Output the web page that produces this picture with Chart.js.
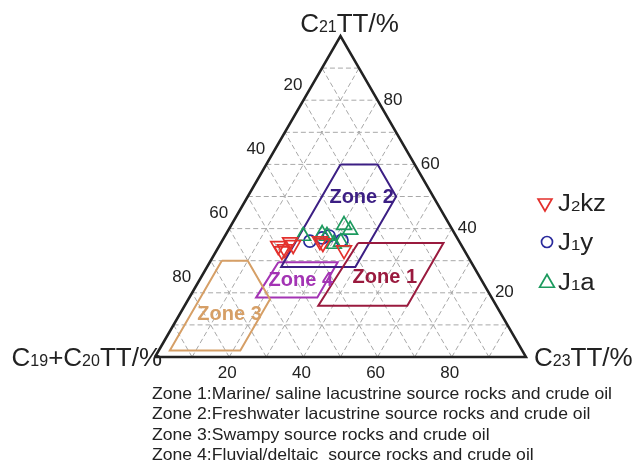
<!DOCTYPE html>
<html><head><meta charset="utf-8">
<script src="https://cdn.jsdelivr.net/npm/chart.js@4.4.0/dist/chart.umd.min.js"></script>
<style>html,body{margin:0;padding:0;background:#fff;}canvas{display:block;}</style>
</head><body>
<canvas id="c" width="634" height="461"></canvas>
<script>
// ---- Data (ternary percentages) ----
const seriesNames = ['J2kz', 'J1y', 'J1a'];
// J2kz samples
const j2kz_C1920 = [49.5, 49.3, 48.2, 45.7, 45.3, 37.5, 37.0, 32.4];
const j2kz_C21   = [34.6, 33.0, 33.6, 35.8, 34.9, 36.1, 35.5, 33.3];
const j2kz_C23   = [15.9, 17.7, 18.2, 18.5, 19.8, 26.4, 27.5, 34.3];
// J1y samples
const j1y_C1920 = [40.2, 36.4, 34.2, 31.4];
const j1y_C21   = [36.1, 37.1, 37.7, 36.4];
const j1y_C23   = [23.7, 26.5, 28.1, 32.2];
// J1a samples
const j1a_C1920 = [41.2, 35.8, 34.8, 34.2, 32.0, 28.5, 27.6];
const j1a_C21   = [37.7, 38.3, 37.7, 35.2, 35.8, 41.1, 39.6];
const j1a_C23   = [21.1, 25.9, 27.5, 30.6, 32.2, 30.4, 32.8];

// Genetic zones (vertices as C21, C23)
const zoneNames = ['Zone 1', 'Zone 2', 'Zone 3', 'Zone 4'];
const zone1_C21 = [35.5, 35.5, 16, 16];
const zone1_C23 = [37, 60, 60, 36];
const zone2_C21 = [60, 60, 50, 28, 28];
const zone2_C23 = [20, 30, 40, 40, 20];
const zone3_C21 = [30, 30, 18, 2, 2];
const zone3_C23 = [3, 10, 22, 22, 3];
const zone4_C21 = [29.5, 29.5, 18.5, 18.5];
const zone4_C23 = [18.5, 34.5, 34.5, 18];

const gridValues = [10, 20, 30, 40, 50, 60, 70, 80, 90];
const tickLabels = [20, 40, 60, 80];
const zoneDescriptions = [
  'Zone 1:Marine/ saline lacustrine source rocks and crude oil',
  'Zone 2:Freshwater lacustrine source rocks and crude oil',
  'Zone 3:Swampy source rocks and crude oil',
  'Zone 4:Fluvial/deltaic  source rocks and crude oil'
];

// ---- ternary -> cartesian ----
const H = Math.sqrt(3) / 2;
function tern(c21, c23) { return { x: c23 + c21 / 2, y: c21 * H }; }
const GAP = { x: NaN, y: NaN };

function pts(c21s, c23s) { return c21s.map((v, i) => tern(v, c23s[i])); }
function closed(c21s, c23s) { const p = pts(c21s, c23s); p.push(p[0]); return p; }

const gridData = [];
gridValues.forEach(k => {
  gridData.push(tern(k, 0), tern(k, 100 - k), GAP);         // C21 constant
  gridData.push(tern(0, k), tern(100 - k, k), GAP);         // C23 constant
  gridData.push(tern(0, 100 - k), tern(100 - k, 0), GAP);   // C19+C20 constant
});
const frame = [tern(0, 0), tern(0, 100), tern(100, 0), tern(0, 0)];

const colZone = ['#9a1a3e', '#3c1f84', '#d69f66', '#a334b4'];
const colSer = ['#e3302c', '#2a2a9c', '#1c9a5e'];

function lineDS(data, color, width, order, dash) {
  return { data, showLine: true, borderColor: color, borderWidth: width, pointRadius: 0,
    fill: false, tension: 0, order, clip: false, borderDash: dash || [], spanGaps: false,
    borderJoinStyle: 'miter' };
}

const datasets = [
  lineDS(gridData, '#a8a8a8', 1, 5, [5, 3]),
  lineDS(frame, '#222222', 2.5, 4),
  lineDS(closed(zone1_C21, zone1_C23), colZone[0], 2, 3),
  lineDS(closed(zone2_C21, zone2_C23), colZone[1], 2, 3),
  lineDS(closed(zone3_C21, zone3_C23), colZone[2], 2, 3),
  lineDS(closed(zone4_C21, zone4_C23), colZone[3], 2, 3),
  { label: seriesNames[0], data: pts(j2kz_C21, j2kz_C23), pointStyle: 'triangle', rotation: 180,
    pointRadius: 8.5, borderColor: colSer[0], backgroundColor: 'rgba(0,0,0,0)', pointBorderWidth: 1.7, order: 0, clip: false },
  { label: seriesNames[1], data: pts(j1y_C21, j1y_C23), pointStyle: 'circle',
    pointRadius: 6, borderColor: colSer[1], backgroundColor: 'rgba(0,0,0,0)', pointBorderWidth: 1.7, order: 1, clip: false },
  { label: seriesNames[2], data: pts(j1a_C21, j1a_C23), pointStyle: 'triangle',
    pointRadius: 8.5, borderColor: colSer[2], backgroundColor: 'rgba(0,0,0,0)', pointBorderWidth: 1.7, order: 0, clip: false }
];

// label anchors (ternary C21, C23)
const zoneLabelAt = [[24.7, 49.6], [49.8, 30.8], [13.4, 13.4], [23.8, 27.4]];

function drawRich(ctx, parts, x, y, align, sxk) {
  sxk = sxk || 1;
  let w = 0;
  parts.forEach(p => { ctx.font = p[2] + ' ' + p[1] + 'px "Liberation Sans", Arial, sans-serif'; p.w = ctx.measureText(p[0]).width; w += p.w; });
  w *= sxk;
  let sx = align === 'center' ? x - w / 2 : (align === 'right' ? x - w : x);
  ctx.save();
  ctx.translate(sx, y);
  ctx.scale(sxk, 1);
  ctx.textAlign = 'left';
  ctx.textBaseline = 'alphabetic';
  let cx = 0;
  parts.forEach(p => { ctx.font = p[2] + ' ' + p[1] + 'px "Liberation Sans", Arial, sans-serif'; ctx.fillText(p[0], cx, 0); cx += p.w; });
  ctx.restore();
}

function marker(ctx, style, x, y, r, color) {
  ctx.save();
  ctx.strokeStyle = color; ctx.lineWidth = 1.7;
  ctx.beginPath();
  if (style === 'circle') { ctx.arc(x, y, r, 0, Math.PI * 2); }
  else {
    const rot = style === 'down' ? Math.PI : 0;
    for (let i = 0; i < 3; i++) {
      const a = rot + i * 2 * Math.PI / 3;
      const px = x + Math.sin(a) * r, py = y - Math.cos(a) * r;
      if (i === 0) ctx.moveTo(px, py); else ctx.lineTo(px, py);
    }
    ctx.closePath();
  }
  ctx.stroke();
  ctx.restore();
}

const textPlugin = {
  id: 'ternaryText',
  afterDatasetsDraw(chart) {
    const ctx = chart.ctx, sx = chart.scales.x, sy = chart.scales.y;
    const P = (c21, c23) => { const t = tern(c21, c23); return [sx.getPixelForValue(t.x), sy.getPixelForValue(t.y)]; };
    ctx.save();
    ctx.fillStyle = '#222';
    ctx.font = '17px "Liberation Sans", Arial, sans-serif';
    // left edge labels (C19+C20)
    ctx.textAlign = 'right'; ctx.textBaseline = 'middle';
    tickLabels.forEach(v => { const [x, y] = P(100 - v, 0); ctx.fillText(String(v), x - 1, y - 15); });
    // right edge labels (C21)
    ctx.textAlign = 'left';
    tickLabels.forEach(v => { const [x, y] = P(v, 100 - v); ctx.fillText(String(v), x + 6, y); });
    // bottom labels (C23)
    ctx.textAlign = 'center';
    tickLabels.forEach(v => { const [x, y] = P(0, v); ctx.fillText(String(v), x - 2, y + 16); });

    // axis titles
    ctx.fillStyle = '#222';
    const apex = P(100, 0), bl = P(0, 0), br = P(0, 100);
    drawRich(ctx, [['C', 26, ''], ['21', 16, ''], ['TT/%', 26, '']], apex[0] + 9, apex[1] - 4, 'center');
    drawRich(ctx, [['C', 26, ''], ['19', 16, ''], ['+C', 26, ''], ['20', 16, ''], ['TT/%', 26, '']], bl[0] + 7, bl[1] + 9, 'right');
    drawRich(ctx, [['C', 26, ''], ['23', 16, ''], ['TT/%', 26, '']], br[0] + 8, br[1] + 9, 'left');

    // zone labels
    ctx.textAlign = 'center'; ctx.textBaseline = 'middle';
    ctx.font = 'bold 20px "Liberation Sans", Arial, sans-serif';
    zoneNames.forEach((n, i) => {
      const [x, y] = P(zoneLabelAt[i][0], zoneLabelAt[i][1]);
      ctx.fillStyle = colZone[i];
      ctx.fillText(n, x, y);
    });

    // legend
    const lx = 546, ly = [203, 242, 282];
    marker(ctx, 'down', lx - 1, ly[0], 8, colSer[0]);
    marker(ctx, 'circle', lx + 1, ly[1], 5.5, colSer[1]);
    marker(ctx, 'up', lx + 1, ly[2] + 1, 8.5, colSer[2]);
    ctx.fillStyle = '#222';
    drawRich(ctx, [['J', 23, ''], ['2', 15, ''], ['kz', 23, '']], 558, ly[0] + 8, 'left', 1.12);
    drawRich(ctx, [['J', 23, ''], ['1', 15, ''], ['y', 23, '']], 558, ly[1] + 8, 'left', 1.12);
    drawRich(ctx, [['J', 23, ''], ['1', 15, ''], ['a', 23, '']], 558, ly[2] + 8, 'left', 1.12);

    // zone descriptions
    ctx.font = '16.5px "Liberation Sans", Arial, sans-serif';
    ctx.textAlign = 'left'; ctx.textBaseline = 'middle';
    const w0 = ctx.measureText(zoneDescriptions[0]).width;
    const k = 460 / w0;
    zoneDescriptions.forEach((t, i) => {
      ctx.save();
      ctx.translate(152, 394 + i * 20.5);
      ctx.scale(k, 1);
      ctx.fillText(t, 0, 0);
      ctx.restore();
    });
    ctx.restore();
  }
};

new Chart(document.getElementById('c'), {
  type: 'scatter',
  data: { datasets },
  options: {
    responsive: false, animation: false, devicePixelRatio: 1, events: [],
    layout: { padding: { left: 155, right: 108, top: 36, bottom: 104 } },
    scales: {
      x: { type: 'linear', min: 0, max: 100, display: false },
      y: { type: 'linear', min: 0, max: 100 * H, display: false }
    },
    plugins: { legend: { display: false }, tooltip: { enabled: false } }
  },
  plugins: [textPlugin]
});
</script>
</body></html>
